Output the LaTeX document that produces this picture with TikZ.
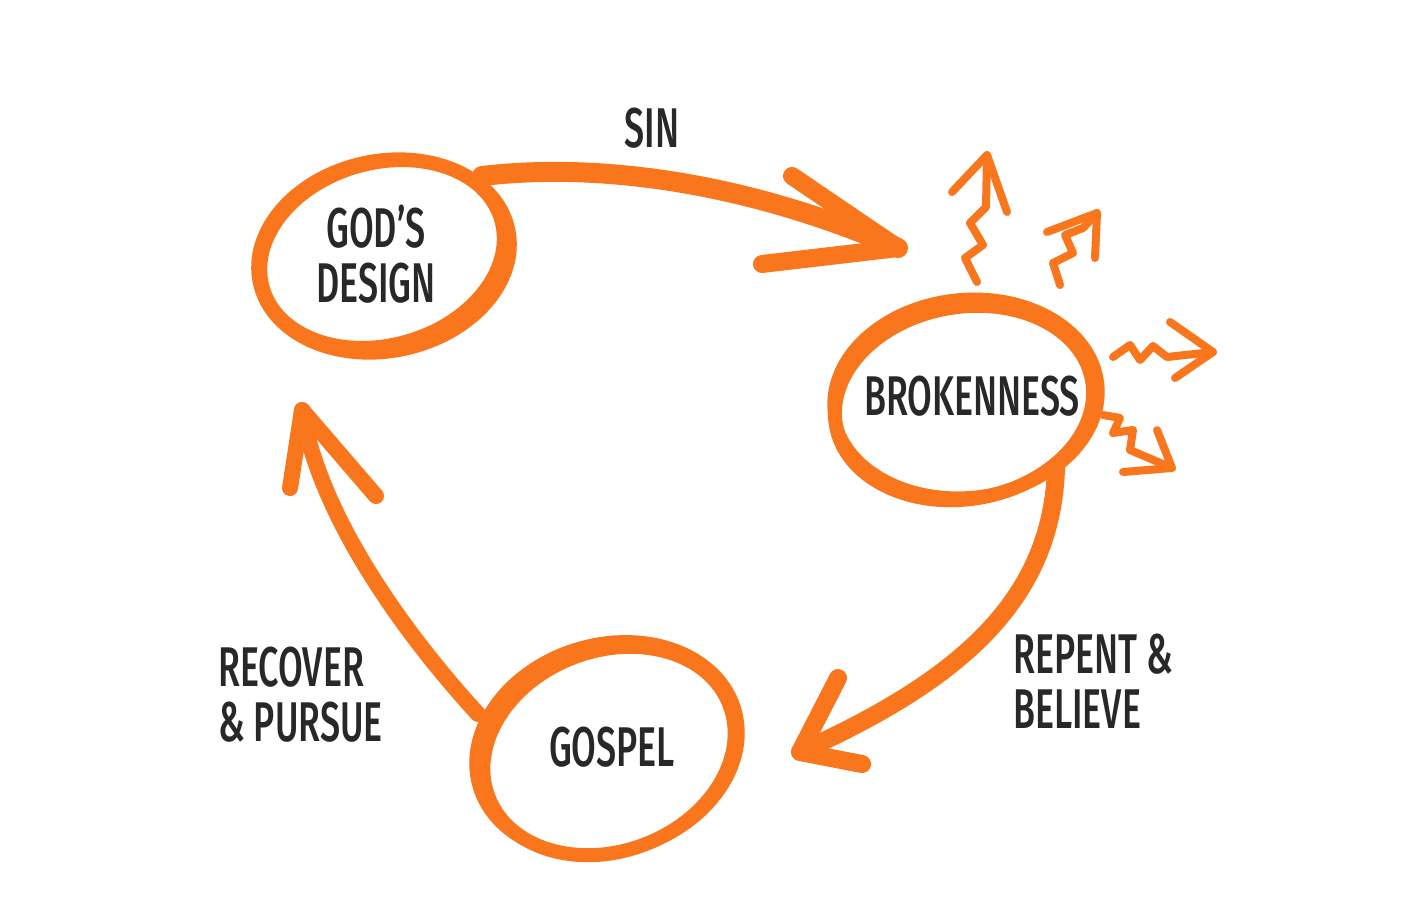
\documentclass[tikz,border=0pt]{standalone}
\usepackage{fontspec}
\newfontfamily\lbl[FakeStretch=0.64]{Fira Sans Medium}
\definecolor{org}{RGB}{250,118,28}
\definecolor{ink}{RGB}{40,40,42}
\begin{document}
\begin{tikzpicture}[x=1pt,y=-1pt,
 lab/.style={font=\lbl\fontsize{56}{55}\selectfont, text=ink, align=center, inner sep=0},
 brush/.style={draw=org, line width=18, line cap=round, line join=round},
 ring/.style={draw=org, line width=12},
 zig/.style={draw=org, line width=8, line cap=round, line join=round}]
\useasboundingbox (0,0) rectangle (1410,897);
\fill[white] (0,0) rectangle (1410,897);
% rings
\draw[ring] (384,256) ellipse [x radius=128, y radius=96, rotate=12];
\draw[ring] (382,254) ellipse [x radius=123, y radius=90, rotate=16];
\draw[ring] (966,398) ellipse [x radius=133, y radius=99, rotate=6];
\draw[ring,line width=14] (964,403) ellipse [x radius=130, y radius=96, rotate=10];
\draw[ring] (607,748) ellipse [x radius=134, y radius=104, rotate=17];
\draw[ring,line width=14] (609,751) ellipse [x radius=129, y radius=100, rotate=21];
% labels
\node[lab] (gd) at (376,254) {GOD’S\\DESIGN};
\node[lab] (br) at (972,396) {BROKENNESS};
\node[lab] (gs) at (612,747) {GOSPEL};
\node[lab] (sin) at (652,128) {SIN};
\node[lab,align=left,anchor=west] (rb) at (1013,681) {REPENT \&\\BELIEVE};
\node[lab,align=left,anchor=west] (rp) at (218,695) {RECOVER\\\& PURSUE};
% connector coordinates
\coordinate (s0) at (482,176);
\coordinate (s1) at (898,248);
\coordinate (r0) at (1056,468);
\coordinate (r1) at (800,752);
\coordinate (c0) at (478,714);
\coordinate (c1) at (302,410);
% SIN
\draw[brush,line width=20] (s0) .. controls (620,160) and (770,192) .. (s1);
\draw[brush] (792,176) -- (s1) -- (762,264);
% REPENT
\draw[brush] (r0) .. controls (1052,600) and (960,680) .. (r1);
\draw[brush] (838,678) -- (r1) -- (862,764);
% RECOVER
\draw[brush,line width=16] (c0) .. controls (410,640) and (320,520) .. (c1);
\draw[brush,line width=16] (290,488) -- (c1) -- (376,496);
% zigzags
\coordinate (z1b) at (977,282); \coordinate (z1t) at (987,155);
\coordinate (z2b) at (1060,285); \coordinate (z2t) at (1097,213);
\coordinate (z3b) at (1113,357); \coordinate (z3t) at (1213,352);
\coordinate (z4b) at (1103,415); \coordinate (z4t) at (1172,468);
\draw[zig] (z1b) -- (965,258) -- (983,245) -- (970,223) -- (986,207) -- (z1t);
\draw[zig] (952,192) -- (z1t) -- (1007,212);
\draw[zig] (z2b) -- (1053,263) -- (1073,253) -- (1065,235) -- (1083,228) -- (z2t);
\draw[zig] (1047,232) -- (z2t) -- (1095,258);
\draw[zig] (z3b) -- (1130,345) -- (1140,360) -- (1153,346) -- (1167,357) -- (z3t);
\draw[zig] (1170,322) -- (z3t) -- (1175,378);
\draw[zig] (z4b) -- (1120,418) -- (1113,433) -- (1133,430) -- (1130,450) -- (z4t);
\draw[zig] (1157,430) -- (z4t) -- (1123,472);
\end{tikzpicture}
\end{document}
